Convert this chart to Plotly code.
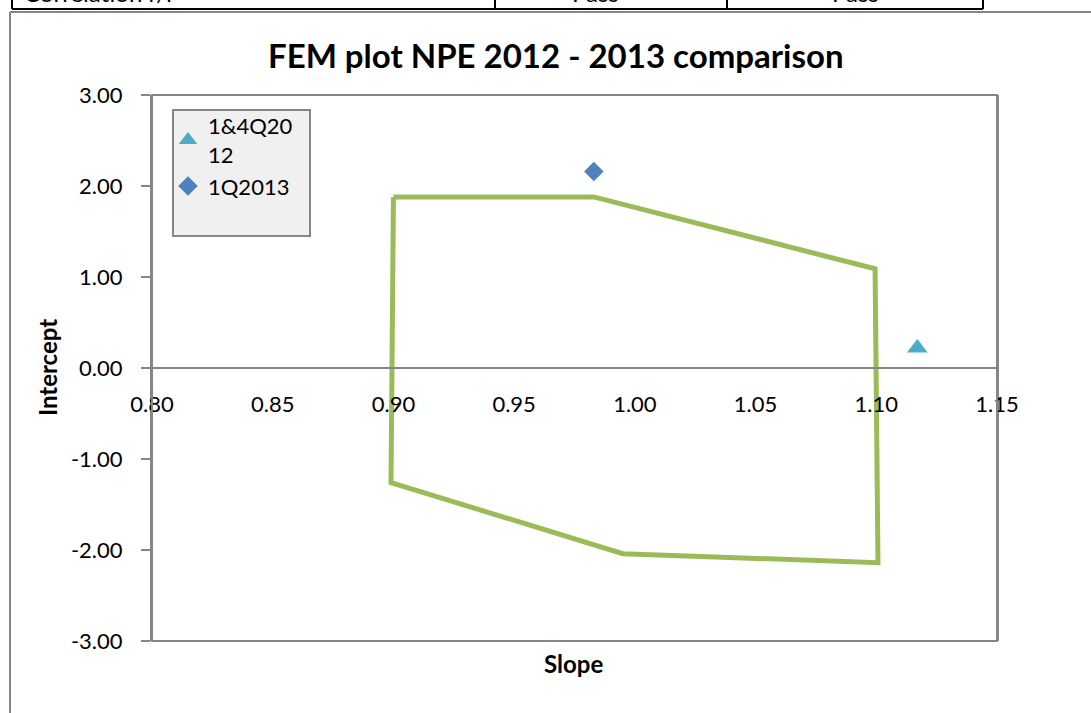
import plotly.graph_objects as go

# ---- data ----
region_slope = [0.900, 0.983, 1.0995, 1.1007, 0.995, 0.899, 0.900]
region_intercept = [1.88, 1.88, 1.09, -2.14, -2.04, -1.26, 1.88]

q12_slope = [1.117]
q12_intercept = [0.22]
q13_slope = [0.983]
q13_intercept = [2.16]

x_ticks = [0.80, 0.85, 0.90, 0.95, 1.00, 1.05, 1.10, 1.15]
x_tick_labels = ["0.80", "0.85", "0.90", "0.95", "1.00", "1.05", "1.10", "1.15"]
y_ticks = [-3, -2, -1, 0, 1, 2, 3]
y_tick_labels = ["-3.00", "-2.00", "-1.00", "0.00", "1.00", "2.00", "3.00"]

W, H = 1091, 713
L, R, T, B = 152, 997, 95, 641


def px(x):
    return (x - L) / (R - L)


def py(y):
    return (B - y) / (B - T)


FONT = "Lato"
GRAY = "#868686"

fig = go.Figure()
fig.add_trace(go.Scatter(x=region_slope, y=region_intercept, mode="lines",
                         line=dict(color="#9bbb59", width=5),
                         showlegend=False, hoverinfo="skip"))
fig.add_trace(go.Scatter(x=q12_slope, y=q12_intercept, mode="markers", name="1&4Q20<br>12",
                         marker=dict(symbol="triangle-up", size=18, color="#4bacc6")))
fig.add_trace(go.Scatter(x=q13_slope, y=q13_intercept, mode="markers", name="1Q2013",
                         marker=dict(symbol="diamond", size=15, color="#4f81bd")))

fig.update_layout(
    width=W, height=H,
    margin=dict(l=L, r=W - R, t=T, b=H - B, autoexpand=False),
    paper_bgcolor="white", plot_bgcolor="white",
    font=dict(family=FONT, size=22, color="black"),
    showlegend=True,
    legend=dict(x=px(168), y=py(105), xanchor="left", yanchor="top",
                bgcolor="rgba(0,0,0,0)", borderwidth=0,
                font=dict(family=FONT, size=22), tracegroupgap=2,
                itemsizing="trace"),
    xaxis=dict(range=[0.80, 1.15], tickvals=x_ticks, ticktext=x_tick_labels,
               anchor="free", position=0.5, showline=True, linecolor=GRAY, linewidth=2,
               showgrid=False, zeroline=False, ticks="", ticklabelstandoff=17,
               tickfont=dict(family=FONT, size=22)),
    yaxis=dict(range=[-3, 3], tickvals=y_ticks, ticktext=y_tick_labels,
               showline=True, linecolor=GRAY, linewidth=2, mirror=True,
               showgrid=False, zeroline=False, ticks="outside", ticklen=9, tickcolor=GRAY,
               tickwidth=2, ticklabelstandoff=14,
               tickfont=dict(family=FONT, size=22)),
)

shapes = []
# plot area border
shapes.append(dict(type="rect", xref="paper", yref="paper", x0=0, x1=1, y0=0, y1=1,
                   line=dict(color=GRAY, width=2), layer="above"))
# legend box
shapes.append(dict(type="rect", xref="paper", yref="paper", x0=px(173), x1=px(310),
                   y0=py(236), y1=py(110), fillcolor="#f0f0f0",
                   line=dict(color=GRAY, width=2), layer="above"))
# chart frame
shapes.append(dict(type="line", xref="paper", yref="paper", x0=px(10), x1=px(10),
                   y0=py(12), y1=py(H + 5), line=dict(color=GRAY, width=2)))
shapes.append(dict(type="line", xref="paper", yref="paper", x0=px(10), x1=px(W + 5),
                   y0=py(12), y1=py(12), line=dict(color=GRAY, width=2)))
# table fragment at top
shapes.append(dict(type="line", xref="paper", yref="paper", x0=px(12), x1=px(983),
                   y0=py(9), y1=py(9), line=dict(color="black", width=2)))
for vx in [12, 495, 727, 983]:
    shapes.append(dict(type="line", xref="paper", yref="paper", x0=px(vx), x1=px(vx),
                       y0=py(-2), y1=py(9), line=dict(color="black", width=2)))
fig.update_layout(shapes=shapes)

annotations = [
    dict(text="<b>FEM plot NPE 2012 - 2013 comparison</b>", xref="paper", yref="paper",
         x=px(556), y=py(55), xanchor="center", yanchor="middle", showarrow=False,
         font=dict(family=FONT, size=33, color="black")),
    dict(text="<b>Slope</b>", xref="paper", yref="paper", x=px(573), y=py(663),
         xanchor="center", yanchor="middle", showarrow=False,
         font=dict(family=FONT, size=24, color="black")),
    dict(text="<b>Intercept</b>", xref="paper", yref="paper", x=px(47), y=py(368),
         xanchor="center", yanchor="middle", showarrow=False, textangle=-90,
         font=dict(family=FONT, size=24, color="black")),
    dict(text="Correlation r/r", xref="paper", yref="paper", x=px(22), y=py(9),
         xanchor="left", yanchor="bottom", showarrow=False,
         font=dict(family=FONT, size=24, color="black")),
    dict(text="Pass", xref="paper", yref="paper", x=px(595), y=py(9),
         xanchor="center", yanchor="bottom", showarrow=False,
         font=dict(family=FONT, size=24, color="black")),
    dict(text="Pass", xref="paper", yref="paper", x=px(855), y=py(9),
         xanchor="center", yanchor="bottom", showarrow=False,
         font=dict(family=FONT, size=24, color="black")),
]
fig.update_layout(annotations=annotations)

fig.write_html("out.html", config={"displayModeBar": False},
               post_script="document.body.style.margin='0';")
